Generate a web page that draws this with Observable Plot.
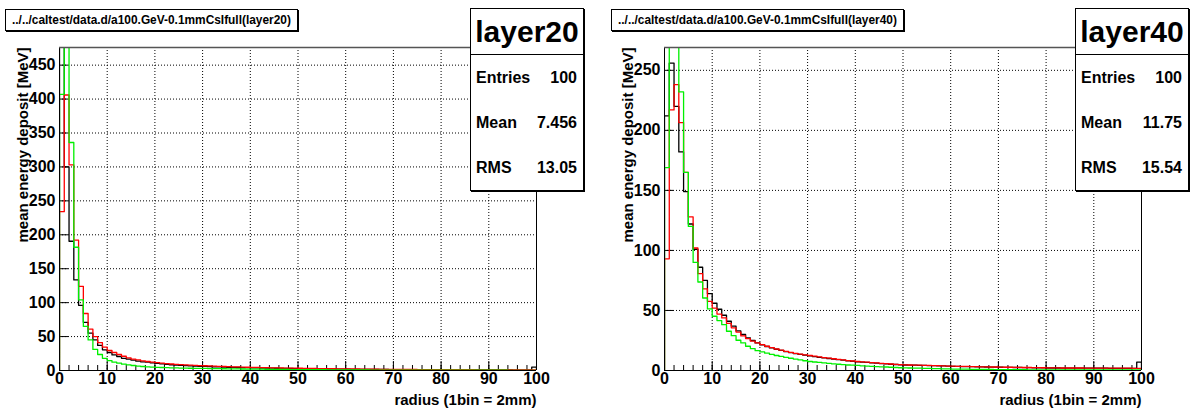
<!DOCTYPE html>
<html><head><meta charset="utf-8">
<script src="https://cdn.jsdelivr.net/npm/d3@7"></script>
<script src="https://cdn.jsdelivr.net/npm/@observablehq/plot@0.6"></script>
<style>
body{margin:0;background:#fff;font-family:"Liberation Sans",Arial,Helvetica,sans-serif;}
#root{position:relative;width:1192px;height:410px;overflow:hidden;background:#fff;}
.panel{position:absolute;top:0;}
.title{position:absolute;border:1px solid #000;box-shadow:1px 1px 0 #000;background:#fff;font-weight:bold;font-size:11.9px;height:22px;line-height:21px;padding:0 0 0 6px;white-space:nowrap;box-sizing:border-box;}
.stats{position:absolute;border:1px solid #000;box-shadow:1px 1px 0 #000;background:#fff;font-weight:bold;box-sizing:border-box;}
.stats .hd{height:45px;line-height:45px;text-align:center;font-size:30px;border-bottom:1px solid #000;}
.stats .row{position:absolute;left:5px;right:6px;font-size:16px;height:20px;line-height:20px;}
.stats .row span{float:right;}
</style>
</head><body>
<div id="root"></div>
<script>
// ---------- data (bin contents, 100 bins of radius) ----------
const xTicks = [0,10,20,30,40,50,60,70,80,90,100];
const yTicks20 = [0,50,100,150,200,250,300,350,400,450];
const yTicks40 = [0,50,100,150,200,250];

const layer20Black = [560,300,190.5,133.5,96,71,55,45,37,30.5,26.5,23,20.6,18,16.7,15.2,13.7,12.8,12.3,11.3,
 10.5,9.8,9.1,8.5,8,7.5,7.1,6.8,6.5,6.2,6,5.7,5.4,5.2,5,4.8,4.6,4.4,4.3,4.1,
 4,3.8,3.7,3.5,3.4,3.3,3.2,3.1,3,2.9,2.8,2.7,2.6,2.5,2.4,2.3,2.2,2.1,2.1,2,
 1.9,1.8,1.8,1.7,1.7,1.6,1.6,1.5,1.5,1.4,1.4,1.3,1.3,1.3,1.2,1.2,1.2,1.1,1.1,1.1,
 1,1,1,1,0.9,0.9,0.9,0.9,0.9,0.8,0.8,0.8,0.8,0.8,0.8,0.7,0.7,0.7,0.7,5];
const layer20Red = [234,406,303,192,124,84,61,50,41,34.4,29.5,26.5,23.6,21,18.7,16.7,15.7,14.2,13.3,12.3,
 11.6,10.9,10.2,9.6,9.1,8.6,8.2,7.9,7.6,7.3,7,6.7,6.4,6.2,5.9,5.7,5.4,5.2,5,4.8,
 4.6,4.5,4.3,4.2,4,3.9,3.7,3.6,3.5,3.4,3.3,3.2,3.1,3,2.9,2.8,2.7,2.6,2.5,2.4,
 2.3,2.3,2.2,2.1,2,2,1.9,1.8,1.8,1.7,1.6,1.6,1.5,1.5,1.5,1.4,1.4,1.4,1.3,1.3,
 1.2,1.2,1.2,1.1,1.1,1.1,1.1,1,1,1,1,1,0.9,0.9,0.9,0.9,0.9,0.8,0.8,0.8];
const layer20Green = [407,540,336,181.6,104,65,45,31,23.6,18,14.7,12.3,10.8,9.3,8.3,7.4,6.4,5.9,5.4,4.9,
 4.6,4.4,4.2,4,3.8,3.6,3.5,3.3,3.2,3.1,3,2.9,2.8,2.7,2.6,2.5,2.4,2.3,2.2,2.1,
 2,1.9,1.9,1.8,1.7,1.6,1.6,1.5,1.4,1.4,1.3,1.3,1.2,1.2,1.1,1.1,1,1,1,0.9,
 0.9,0.9,0.8,0.8,0.8,0.7,0.7,0.7,0.7,0.6,0.6,0.6,0.6,0.6,0.5,0.5,0.5,0.5,0.5,0.5,
 0.45,0.45,0.45,0.4,0.4,0.4,0.4,0.4,0.4,0.35,0.35,0.35,0.35,0.35,0.3,0.3,0.3,0.3,0.3,0.3];

const layer40Black = [212,256,220,182,149,122,101,86,75,64,56,51,46,41,37,33,30,27.2,25,23,
 21.3,20,18.8,17.7,16.7,15.8,14.9,14.1,13.4,12.8,12.2,11.6,11,10.5,10,9.5,9,8.6,8.1,7.7,
 7.3,7,6.7,6.4,6.1,5.8,5.5,5.2,5,4.8,4.6,4.5,4.4,4.3,4.2,4.1,4,3.9,3.8,3.6,
 3.5,3.4,3.3,3.3,3.2,3.1,3,2.9,2.8,2.8,2.7,2.6,2.6,2.5,2.5,2.4,2.4,2.3,2.3,2.2,
 2.1,2.1,2.1,2,2,2,2,2,1.9,1.9,1.9,1.9,1.9,1.8,1.8,1.8,1.8,1.8,1.8,7];
const layer40Red = [93,217,238,206.5,165,128,102,80.6,68,57.6,52,47,43.8,39.3,35.5,32,28.8,26.6,24.4,23,
 21.5,20.2,19,17.9,16.9,16,15.1,14.3,13.6,13,12.5,11.9,11.3,10.8,10.3,9.8,9.3,8.8,8.3,7.9,
 7.5,7.2,6.9,6.6,6.3,6,5.7,5.4,5.1,4.9,4.7,4.6,4.5,4.4,4.3,4.2,4.1,4,3.9,3.7,
 3.6,3.5,3.4,3.4,3.3,3.2,3.1,3,2.9,2.9,2.8,2.7,2.7,2.6,2.6,2.5,2.5,2.4,2.4,2.3,
 2.2,2.2,2.2,2.1,2.1,2.1,2.1,2.1,2,2,2,2,2,1.9,1.9,1.9,1.9,1.9,1.8,1.8];
const layer40Green = [169,310,290,232,165,120,90,73.7,60.4,51.3,45.2,41.6,38.2,32.7,29,25.2,23,20.2,18.3,16.5,
 15.5,14.4,13.4,12.5,11.7,10.9,10.2,9.5,8.8,8.1,7.5,7.1,6.7,6.3,5.9,5.6,5.2,4.9,4.6,4.4,
 4.2,3.9,3.7,3.5,3.3,3.1,2.9,2.7,2.5,2.3,2.2,2.1,2,1.9,1.8,1.7,1.6,1.5,1.4,1.3,
 1.2,1.2,1.1,1.1,1,1,0.9,0.9,0.9,0.8,0.8,0.8,0.7,0.7,0.7,0.7,0.6,0.6,0.6,0.6,
 0.6,0.6,0.5,0.5,0.5,0.5,0.5,0.5,0.5,0.5,0.45,0.45,0.45,0.45,0.4,0.4,0.4,0.4,0.4,0.4];

const titles = ["../../caltest/data.d/a100.GeV-0.1mmCsIfull(layer20)", "../../caltest/data.d/a100.GeV-0.1mmCsIfull(layer40)"];
const statNames = ["layer20", "layer40"];
const statEntries = ["100", "100"];
const statMeans = ["7.456", "11.75"];
const statRMS = ["13.05", "15.54"];
const yLabel = "mean energy deposit [MeV]";
const xLabel = "radius (1bin = 2mm)";

// ---------- drawing ----------
function stepPoints(vals){
  const pts=[{x:0,y:0}];
  vals.forEach((v,i)=>pts.push({x:i,y:v}));
  pts.push({x:vals.length,y:vals[vals.length-1]});
  pts.push({x:vals.length,y:0});
  return pts;
}
const minorX = d3.range(0,101,2);
const font = {fontFamily:'"Liberation Sans",Arial,sans-serif', fontWeight:"bold"};

function panel(cfg){
  const {series, yMax, yTicks, mL, mR} = cfg;
  const H = 410, mT = 47, mB = 40, W = 596;
  const fh = H - mT - mB;
  const marks = [
    Plot.ruleX(xTicks.filter(d=>d>0&&d<100), {stroke:"#000", strokeWidth:1, strokeDasharray:"1,2"}),
    Plot.ruleY(yTicks.filter(d=>d>0), {stroke:"#000", strokeWidth:1, strokeDasharray:"1,2"}),
    Plot.tickX(minorX, {x:d=>d, insetTop: fh-5, stroke:"#000"}),
    Plot.tickX(xTicks, {x:d=>d, insetTop: fh-9, stroke:"#000"}),
    Plot.tickY(yTicks, {y:d=>d, insetRight: (W-mL-mR)-9, stroke:"#000"}),
  ];
  series.forEach(s=>{
    marks.push(Plot.line(stepPoints(s.vals), {x:"x", y:"y", curve:"step-after", stroke:s.color, strokeWidth:1.3, clip:true}));
  });
  marks.push(
    Plot.ruleX([0,100], {stroke:"#000", strokeWidth:1}),
    Plot.ruleY([0], {stroke:"#000", strokeWidth:1}),
    Plot.ruleY([yMax], {stroke:"#555", strokeWidth:1.5}),
    Plot.axisX(xTicks, {tickSize:0, tickPadding:2, fontSize:16, ...font, label:null}),
    Plot.axisY(yTicks, {tickSize:0, tickPadding:4, fontSize:16, ...font, label:null}),
    Plot.text([yLabel], {frameAnchor:"top-left", text:d=>d, rotate:-90, textAnchor:"end", lineAnchor:"bottom", dx: cfg.yLabelX - mL, dy:0, fontSize:15, ...font, fill:"#000"}),
    Plot.text([xLabel], {frameAnchor:"bottom-right", text:d=>d, textAnchor:"end", lineAnchor:"bottom", dy:34, fontSize:15, ...font, fill:"#000"})
  );
  return Plot.plot({
    width:W, height:H, marginLeft:mL, marginRight:mR, marginTop:mT, marginBottom:mB,
    x:{domain:[0,100]}, y:{domain:[0,yMax]},
    style:{background:"#fff", color:"#000", overflow:"visible"},
    marks
  });
}

const root = document.getElementById("root");
const cfgs = [
  {left:0, series:[{vals:layer20Black,color:"#000"},{vals:layer20Red,color:"#ff0000"},{vals:layer20Green,color:"#00f000"}],
   yMax:476, yTicks:yTicks20, mL:59, mR:60, yLabelX:27,
   titleBox:{left:5,top:9,width:293}, stats:{left:470,top:8,width:114,height:183}},
  {left:596, series:[{vals:layer40Black,color:"#000"},{vals:layer40Red,color:"#ff0000"},{vals:layer40Green,color:"#00f000"}],
   yMax:269, yTicks:yTicks40, mL:68, mR:51, yLabelX:36,
   titleBox:{left:611,top:9,width:293}, stats:{left:1075,top:8,width:114,height:183}}
];
cfgs.forEach((c,i)=>{
  const wrap = document.createElement("div");
  wrap.className="panel"; wrap.style.left=c.left+"px";
  wrap.appendChild(panel(c));
  root.appendChild(wrap);
  const t = document.createElement("div");
  t.className="title";
  Object.assign(t.style,{left:c.titleBox.left+"px",top:c.titleBox.top+"px",width:c.titleBox.width+"px"});
  t.textContent = titles[i];
  root.appendChild(t);
  const s = document.createElement("div");
  s.className="stats";
  Object.assign(s.style,{left:c.stats.left+"px",top:c.stats.top+"px",width:c.stats.width+"px",height:c.stats.height+"px"});
  s.innerHTML = `<div class="hd">${statNames[i]}</div>
    <div class="row" style="top:59px">Entries<span>${statEntries[i]}</span></div>
    <div class="row" style="top:104px">Mean<span>${statMeans[i]}</span></div>
    <div class="row" style="top:149px">RMS<span>${statRMS[i]}</span></div>`;
  root.appendChild(s);
});
</script>
</body></html>
